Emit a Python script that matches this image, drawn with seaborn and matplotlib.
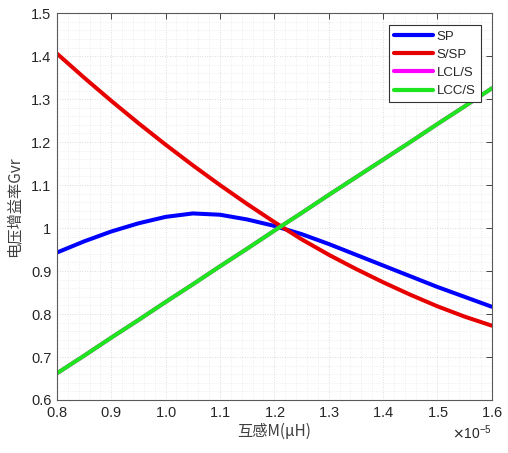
import numpy as np
import pandas as pd
import matplotlib
matplotlib.use("Agg")
import matplotlib.pyplot as plt
from matplotlib.ticker import MultipleLocator, ScalarFormatter
import seaborn as sns

# 互感 M (单位 1e-5)
m_vals = [0.80, 0.85, 0.90, 0.95, 1.00, 1.05, 1.10, 1.15, 1.20,
          1.25, 1.30, 1.35, 1.40, 1.45, 1.50, 1.55, 1.60]
sp = [0.943, 0.969, 0.992, 1.011, 1.026, 1.034, 1.031, 1.020, 1.005,
      0.986, 0.963, 0.938, 0.913, 0.888, 0.863, 0.840, 0.817]
s_sp = [1.406, 1.350, 1.296, 1.244, 1.194, 1.146, 1.100, 1.056, 1.014,
        0.974, 0.938, 0.905, 0.874, 0.845, 0.818, 0.794, 0.773]
lcl_s = [0.662, 0.703, 0.745, 0.786, 0.828, 0.869, 0.911, 0.952, 0.994,
         1.035, 1.077, 1.118, 1.159, 1.200, 1.242, 1.283, 1.325]
lcc_s = [0.662, 0.703, 0.745, 0.786, 0.828, 0.869, 0.911, 0.952, 0.994,
         1.035, 1.077, 1.118, 1.159, 1.200, 1.242, 1.283, 1.325]

names = ["SP", "S/SP", "LCL/S", "LCC/S"]
colors = ["#0000ff", "#e60000", "#ff00ff", "#1ee61e"]

x = np.array(m_vals) * 1e-5
df = pd.concat([
    pd.DataFrame({"M": x, "Gvr": v, "type": n})
    for n, v in zip(names, [sp, s_sp, lcl_s, lcc_s])
])

sns.set_style("white")
plt.rcParams["font.family"] = ["Liberation Sans", "Noto Sans CJK SC", "DejaVu Sans"]
plt.rcParams["axes.unicode_minus"] = False

fig = plt.figure(figsize=(5.08, 4.53), dpi=100)
ax = fig.add_axes([0.112, 0.117, 0.856, 0.854])

sns.lineplot(data=df, x="M", y="Gvr", hue="type", hue_order=names,
             palette=colors, linewidth=2.9, ax=ax, sort=False)

ax.set_xlim(0.8e-5, 1.6e-5)
ax.set_ylim(0.6, 1.5)
ax.xaxis.set_major_locator(MultipleLocator(0.1e-5))
ax.xaxis.set_minor_locator(MultipleLocator(0.02e-5))
ax.yaxis.set_major_locator(MultipleLocator(0.1))
ax.yaxis.set_minor_locator(MultipleLocator(0.02))
fmt = ScalarFormatter(useMathText=True)
fmt.set_powerlimits((-3, 3))
ax.xaxis.set_major_formatter(fmt)
ax.yaxis.set_major_formatter(plt.FuncFormatter(lambda v, p: f"{v:g}"))

ax.grid(which="major", color="#d0d0d0", linestyle=(0, (1, 2)), linewidth=0.6)
ax.grid(which="minor", color="#e2e2e2", linestyle=(0, (1, 2)), linewidth=0.5)
ax.set_axisbelow(True)

ax.tick_params(which="major", direction="in", length=4, width=0.6,
               top=True, right=True, labelsize=10.5, colors="#262626",
               pad=4)
ax.tick_params(which="minor", length=0)
for s in ax.spines.values():
    s.set_color("#5a5a5a")
    s.set_linewidth(0.8)

ax.xaxis.get_offset_text().set_fontsize(10)
ax.xaxis.get_offset_text().set_color("#262626")

ax.set_xlabel("互感M(μH)", fontsize=11, color="#404040",
              family=["Noto Sans CJK SC", "DejaVu Sans"], labelpad=2)
ax.set_ylabel("电压增益率Gvr", fontsize=11, color="#404040",
              family=["Noto Sans CJK SC", "DejaVu Sans"], labelpad=6)

leg = ax.legend(loc="upper right", bbox_to_anchor=(0.975, 0.969),
                borderaxespad=0, fontsize=9.5, handlelength=2.9,
                handletextpad=0.3, labelspacing=0.45, borderpad=0.4,
                frameon=True, fancybox=False, framealpha=1)
leg.get_frame().set_edgecolor("#333333")
leg.get_frame().set_linewidth(0.8)
for line in leg.get_lines():
    line.set_linewidth(3)

fig.savefig("out.png", dpi=100, facecolor="white")
